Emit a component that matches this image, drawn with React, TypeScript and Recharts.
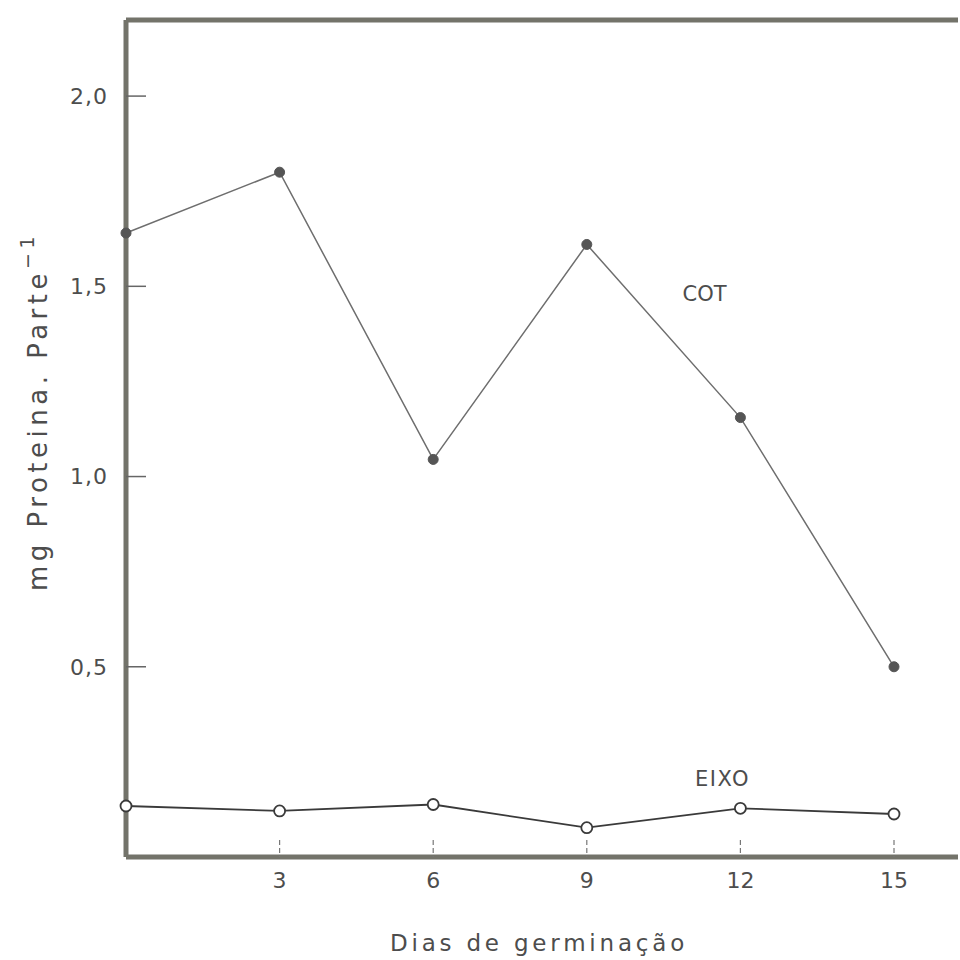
import React from 'react';
import { LineChart, Line, XAxis, YAxis, ReferenceLine, ReferenceDot } from 'recharts';

// dias de germinação
const dias = [0, 3, 6, 9, 12, 15];
// mg proteína por parte
const cot = [1.64, 1.8, 1.045, 1.61, 1.155, 0.5];
const eixo = [0.134, 0.121, 0.138, 0.077, 0.128, 0.113];

const xTicks = [3, 6, 9, 12, 15];
const yTicks = [0.5, 1.0, 1.5, 2.0];
const xMax = 16.25;
const yMax = 2.2;

// posição das etiquetas das curvas (em unidades dos dados)
const cotLabel = { x: 11.3, y: 1.48, text: 'COT' };
const eixoLabel = { x: 11.65, y: 0.205, text: 'EIXO' };

const data = dias.map((d, i) => ({ dia: d, cot: cot[i], eixo: eixo[i] }));

const AXIS = '#73736a';
const INK = '#4d4d4d';
const FONT = '"DejaVu Sans", sans-serif';

const fmt = (v: number) => v.toFixed(1).replace('.', ',');

// eslint-disable-next-line @typescript-eslint/no-explicit-any
const YTitle = ({ viewBox }: any) => {
    const cx = viewBox.x - 19;
    const cy = viewBox.y + viewBox.height / 2 - 27;
    return (
        <text
            x={cx}
            y={cy}
            transform={`rotate(-90, ${cx}, ${cy})`}
            textAnchor="middle"
            fill={INK}
            fontFamily={FONT}
            fontSize={26}
            letterSpacing={4.5}
        >
            mg Proteina. Parte
            <tspan dy={-13} fontSize={19}>−1</tspan>
        </text>
    );
};

// eslint-disable-next-line @typescript-eslint/no-explicit-any
const XTitle = ({ viewBox }: any) => (
    <text
        x={viewBox.x + viewBox.width / 2 - 3}
        y={viewBox.y + 94}
        textAnchor="middle"
        fill={INK}
        fontFamily={FONT}
        fontSize={23}
        letterSpacing={3.8}
    >
        Dias de germinação
    </text>
);

export default function App() {
    return (
        <div style={{ position: 'absolute', left: 0, top: 0, background: '#fff' }}>
            <LineChart
                width={960}
                height={960}
                data={data}
                margin={{ top: 20, right: 2, bottom: 3, left: 66 }}
            >
                <XAxis
                    dataKey="dia"
                    type="number"
                    domain={[0, xMax]}
                    ticks={xTicks}
                    height={100}
                    axisLine={{ stroke: AXIS, strokeWidth: 5 }}
                    tickLine={{ stroke: '#777', strokeWidth: 1.2, strokeDasharray: '5 3' }}
                    tickSize={-17}
                    tickMargin={32}
                    tick={{ fill: INK, fontSize: 22, fontFamily: FONT }}
                    label={<XTitle />}
                />
                <YAxis
                    type="number"
                    domain={[0, yMax]}
                    ticks={yTicks}
                    width={60}
                    tickFormatter={fmt}
                    axisLine={{ stroke: AXIS, strokeWidth: 5 }}
                    tickLine={{ stroke: '#666', strokeWidth: 1.5 }}
                    tickSize={-20}
                    tickMargin={38}
                    tick={{ fill: INK, fontSize: 22, fontFamily: FONT, letterSpacing: 1 }}
                    label={<YTitle />}
                />
                {/* borda superior */}
                <ReferenceLine y={yMax} stroke={AXIS} strokeWidth={5} ifOverflow="visible" />

                <Line
                    dataKey="cot"
                    type="linear"
                    stroke="#6e6e6e"
                    strokeWidth={1.5}
                    dot={{ r: 5, fill: '#555', stroke: '#555', strokeWidth: 1 }}
                    isAnimationActive={false}
                />
                <Line
                    dataKey="eixo"
                    type="linear"
                    stroke="#3a3a3a"
                    strokeWidth={1.8}
                    dot={{ r: 5.5, fill: '#fff', stroke: '#3a3a3a', strokeWidth: 1.8 }}
                    isAnimationActive={false}
                />

                <ReferenceDot
                    x={cotLabel.x}
                    y={cotLabel.y}
                    r={0}
                    label={{ value: cotLabel.text, position: 'center', fill: INK, fontSize: 21, fontFamily: FONT }}
                />
                <ReferenceDot
                    x={eixoLabel.x}
                    y={eixoLabel.y}
                    r={0}
                    label={{ value: eixoLabel.text, position: 'center', fill: INK, fontSize: 21, fontFamily: FONT, letterSpacing: 1.5 }}
                />
            </LineChart>
        </div>
    );
}
